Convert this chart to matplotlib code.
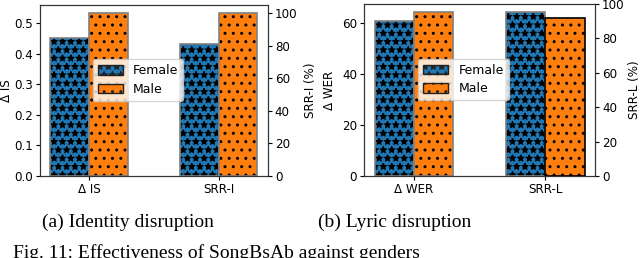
import matplotlib
matplotlib.use("Agg")
import matplotlib.pyplot as plt
from matplotlib.patches import Patch

plt.rcParams['hatch.linewidth'] = 1.0

groups_a = ["Δ IS", "SRR-I"]
female_a = [0.452, 80.9]
male_a = [0.532, 100.0]

groups_b = ["Δ WER", "SRR-L"]
female_b = [60.9, 95.2]
male_b = [64.3, 91.5]

labels = ["Female", "Male"]
ylabels_a = ("Δ IS", "SRR-I (%)")
ylabels_b = ("Δ WER", "SRR-L (%)")
captions = ["(a) Identity disruption", "(b) Lyric disruption"]
fig_caption = "Fig. 11: Effectiveness of SongBsAb against genders"

blue = "#1f77b4"
orange = "#ff7f0e"
W = 0.3
FS = 8.6

fig = plt.figure(figsize=(6.4, 2.58), dpi=100)


def hbar(ax, x, h, color, hatch, edge):
    # hatch drawn in black, outline drawn separately
    ax.bar(x, h, W, color=color, edgecolor="black", hatch=hatch, linewidth=0)
    ax.bar(x, h, W, fill=False, edgecolor=edge, linewidth=1.2)


def panel(rect, groups, fem, mal, ylabs, ax2ylim, yticks1, yticklabels1, male2_edge, lx, rx):
    ax = fig.add_axes(rect)
    ax2 = ax.twinx()
    hbar(ax, 0 - W/2, fem[0], blue, "**", "#808080")
    hbar(ax, 0 + W/2, mal[0], orange, "..", "#808080")
    hbar(ax2, 1 - W/2, fem[1], blue, "**", "#808080")
    hbar(ax2, 1 + W/2, mal[1], orange, "..", male2_edge)
    ax.set_xticks([0, 1])
    ax.set_xticklabels(groups, fontsize=FS)
    ax.set_xlim(-0.38, 1.38)
    ax.set_ylabel(ylabs[0], fontsize=FS)
    ax2.set_ylabel(ylabs[1], fontsize=FS)
    ax.yaxis.set_label_coords(lx, 0.5)
    ax2.yaxis.set_label_coords(rx, 0.5)
    ax.set_yticks(yticks1)
    ax.set_yticklabels(yticklabels1)
    ax.tick_params(labelsize=FS, length=3, pad=2)
    ax2.tick_params(labelsize=FS, length=3, pad=2)
    ax2.set_ylim(*ax2ylim)
    ax2.set_yticks([0, 20, 40, 60, 80, 100])
    handles = [Patch(facecolor=blue, edgecolor="#222222", hatch="**"),
               Patch(facecolor=orange, edgecolor="#222222", hatch="..")]
    ax2.legend(handles, labels, loc="center", bbox_to_anchor=(0.43, 0.56),
               fontsize=9, frameon=True, framealpha=0.8, borderpad=0.4,
               handlelength=2.0, handleheight=0.8, labelspacing=0.45, handletextpad=0.8)
    for s in list(ax.spines.values()) + list(ax2.spines.values()):
        s.set_color("#333333")
    return ax, ax2


axa, axa2 = panel([0.0625, 0.318, 0.356, 0.663], groups_a, female_a, male_a, ylabels_a,
                  (0, 105), [0.0, 0.1, 0.2, 0.3, 0.4, 0.5],
                  ["0.0", "0.1", "0.2", "0.3", "0.4", "0.5"], "#808080", -0.118, 1.158)
axa.set_ylim(0, 0.559)

axb, axb2 = panel([0.569, 0.318, 0.361, 0.667], groups_b, female_b, male_b, ylabels_b,
                  (0, 100), [0, 20, 40, 60], ["0", "20", "40", "60"], "black", -0.121, 1.143)
axb.set_ylim(0, 67.6)

serif = ["Liberation Serif", "DejaVu Serif"]
fig.text(128/640, 1 - 222/258, captions[0], ha="center", va="center", fontsize=14, family=serif)
fig.text(395/640, 1 - 222/258, captions[1], ha="center", va="center", fontsize=14, family=serif)
fig.text(13/640, 1 - 244/258, fig_caption, ha="left", va="top", fontsize=14, family=serif)

fig.savefig("out.png", dpi=100)
